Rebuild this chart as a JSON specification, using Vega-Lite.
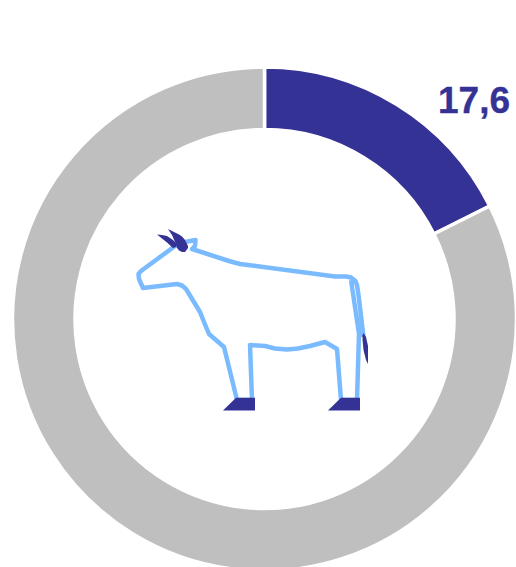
{"$schema":"https://vega.github.io/schema/vega-lite/v6.json","width":516,"height":567,"padding":0,"autosize":{"type":"none"},"background":"white","view":{"stroke":null},
"layer":[
{"data":{"values":[{"segment":"Valor","value":17.6,"rank":1},{"segment":"Resto","value":82.4,"rank":2}]},
"mark":{"type":"arc","outerRadius":252,"innerRadius":189.5,"stroke":"white","strokeWidth":3.5},
"encoding":{"x":{"value":264.5},"y":{"value":319},"theta":{"field":"value","type":"quantitative","stack":true,"scale":{"domain":[0,100]}},"order":{"field":"rank"},"color":{"field":"segment","type":"nominal","scale":{"domain":["Valor","Resto"],"range":["#353295","#BFBFBF"]},"legend":null}}},
{"data":{"values":[{"i":1,"x":363.5,"y":337},{"i":2,"x":358.5,"y":295},{"i":3,"x":357,"y":285},{"i":4,"x":355,"y":280.5},{"i":5,"x":351,"y":277.5},{"i":6,"x":346,"y":276.5},{"i":7,"x":335,"y":276.5},{"i":8,"x":240,"y":264},{"i":9,"x":229,"y":261},{"i":10,"x":192,"y":249},{"i":11,"x":195,"y":246},{"i":12,"x":195.5,"y":240},{"i":13,"x":185,"y":242},{"i":14,"x":175,"y":246},{"i":15,"x":141,"y":271},{"i":16,"x":138.5,"y":274},{"i":17,"x":139,"y":279},{"i":18,"x":143,"y":288},{"i":19,"x":177,"y":284},{"i":20,"x":182,"y":285.5},{"i":21,"x":186,"y":289},{"i":22,"x":200,"y":312},{"i":23,"x":204,"y":322},{"i":24,"x":209,"y":334},{"i":25,"x":224,"y":347},{"i":26,"x":237,"y":400},{"i":27,"x":252,"y":400},{"i":28,"x":250,"y":345},{"i":29,"x":265,"y":346},{"i":30,"x":275,"y":348.5},{"i":31,"x":287,"y":349.5},{"i":32,"x":298,"y":348.5},{"i":33,"x":310,"y":346},{"i":34,"x":325,"y":342},{"i":35,"x":337,"y":349},{"i":36,"x":341,"y":400},{"i":37,"x":357,"y":400},{"i":38,"x":359,"y":334},{"i":39,"x":351,"y":280}]},
"mark":{"type":"line","stroke":"#7ABBFF","strokeWidth":4.5,"strokeJoin":"round","interpolate":"linear"},
"encoding":{"x":{"field":"x","type":"quantitative","scale":{"domain":[0,516],"nice":false,"zero":false},"axis":null},"y":{"field":"y","type":"quantitative","scale":{"domain":[567,0],"nice":false,"zero":false},"axis":null},"order":{"field":"i"}}},
{"data":{"values":[
{"part":"hoof1","x":223,"y":410.5,"y2":410.5},{"part":"hoof1","x":236,"y":397.7,"y2":410.5},{"part":"hoof1","x":255,"y":397.7,"y2":410.5},
{"part":"hoof2","x":328,"y":410.5,"y2":410.5},{"part":"hoof2","x":341,"y":397.7,"y2":410.5},{"part":"hoof2","x":360,"y":397.7,"y2":410.5},
{"part":"horn1","x":157,"y":234.5,"y2":234.5},{"part":"horn1","x":162,"y":235,"y2":238.5},{"part":"horn1","x":167,"y":236,"y2":242.5},{"part":"horn1","x":173,"y":240,"y2":248},{"part":"horn1","x":176,"y":243,"y2":247},
{"part":"horn2","x":168,"y":229,"y2":229},{"part":"horn2","x":172,"y":231,"y2":235},{"part":"horn2","x":175,"y":232.5,"y2":242},{"part":"horn2","x":177,"y":233.5,"y2":248},{"part":"horn2","x":179,"y":234.5,"y2":250.5},{"part":"horn2","x":182,"y":236.5,"y2":252},{"part":"horn2","x":185,"y":240,"y2":252},{"part":"horn2","x":188,"y":246,"y2":248},
{"part":"tail","x":362.5,"y":335,"y2":340},{"part":"tail","x":363.5,"y":333,"y2":350},{"part":"tail","x":366,"y":337,"y2":360},{"part":"tail","x":368,"y":346,"y2":364}]},
"mark":{"type":"area","color":"#353295","interpolate":"linear"},
"encoding":{"x":{"field":"x","type":"quantitative"},"y":{"field":"y","type":"quantitative","stack":null},"y2":{"field":"y2"},"detail":{"field":"part"}}},
{"data":{"values":[{"label":"17,6"}]},
"mark":{"type":"text","font":"Liberation Sans","fontWeight":"bold","fontSize":37,"align":"center","baseline":"alphabetic","color":"#353295","stroke":"#353295","strokeWidth":0.4,"x":474,"y":113},
"encoding":{"text":{"field":"label"}}}
]}
